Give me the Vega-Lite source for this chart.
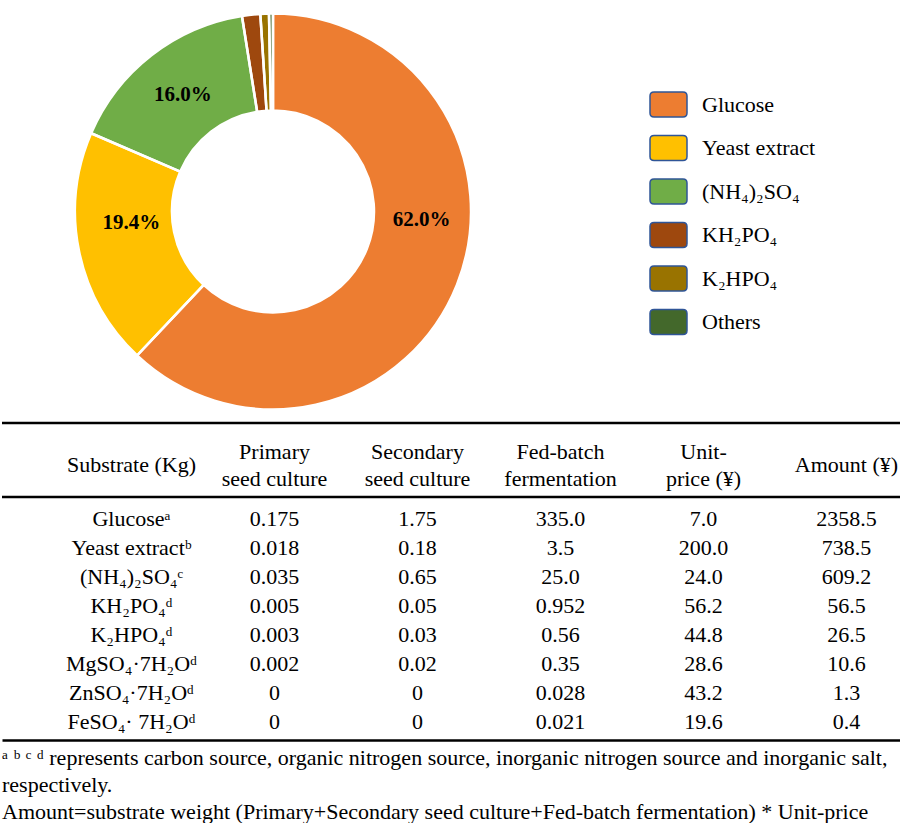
{
  "$schema": "https://vega.github.io/schema/vega-lite/v6.json",
  "padding": 0,
  "spacing": 0,
  "bounds": "flush",
  "config": {
    "view": {"stroke": null},
    "font": "Liberation Serif, Times New Roman, Times, DejaVu Serif, serif",
    "text": {"font": "Liberation Serif, Times New Roman, Times, DejaVu Serif, serif", "color": "black"}
  },
  "datasets": {
    "cost": [
      {"Substrate": "Glucose", "Amount": 2358.5},
      {"Substrate": "Yeast extract", "Amount": 738.5},
      {"Substrate": "(NH₄)₂SO₄", "Amount": 609.2},
      {"Substrate": "KH₂PO₄", "Amount": 56.5},
      {"Substrate": "K₂HPO₄", "Amount": 26.5},
      {"Substrate": "Others", "Amount": 12.3}
    ],
    "header": [
      {"Column": "Substrate", "Header": "Substrate (Kg)"},
      {"Column": "Primary", "Header": "Primary\nseed culture"},
      {"Column": "Secondary", "Header": "Secondary\nseed culture"},
      {"Column": "FedBatch", "Header": "Fed-batch\nfermentation"},
      {"Column": "UnitPrice", "Header": "Unit-\nprice (¥)"},
      {"Column": "Amount", "Header": "Amount (¥)"}
    ],
    "table": [
      {"Substrate": "Glucoseᵃ", "Primary": "0.175", "Secondary": "1.75", "FedBatch": "335.0", "UnitPrice": "7.0", "Amount": "2358.5"},
      {"Substrate": "Yeast extractᵇ", "Primary": "0.018", "Secondary": "0.18", "FedBatch": "3.5", "UnitPrice": "200.0", "Amount": "738.5"},
      {"Substrate": "(NH₄)₂SO₄ᶜ", "Primary": "0.035", "Secondary": "0.65", "FedBatch": "25.0", "UnitPrice": "24.0", "Amount": "609.2"},
      {"Substrate": "KH₂PO₄ᵈ", "Primary": "0.005", "Secondary": "0.05", "FedBatch": "0.952", "UnitPrice": "56.2", "Amount": "56.5"},
      {"Substrate": "K₂HPO₄ᵈ", "Primary": "0.003", "Secondary": "0.03", "FedBatch": "0.56", "UnitPrice": "44.8", "Amount": "26.5"},
      {"Substrate": "MgSO₄·7H₂Oᵈ", "Primary": "0.002", "Secondary": "0.02", "FedBatch": "0.35", "UnitPrice": "28.6", "Amount": "10.6"},
      {"Substrate": "ZnSO₄·7H₂Oᵈ", "Primary": "0", "Secondary": "0", "FedBatch": "0.028", "UnitPrice": "43.2", "Amount": "1.3"},
      {"Substrate": "FeSO₄· 7H₂Oᵈ", "Primary": "0", "Secondary": "0", "FedBatch": "0.021", "UnitPrice": "19.6", "Amount": "0.4"}
    ]
  },
  "vconcat": [
    {
      "width": 542,
      "height": 423,
      "data": {"name": "cost"},
      "transform": [
        {"joinaggregate": [{"op": "sum", "field": "Amount", "as": "Total"}]},
        {"calculate": "datum.Amount / datum.Total", "as": "Share"},
        {"calculate": "datum.Substrate == '(NH₄)₂SO₄' ? format(datum.Share, '.1%') : ''", "as": "LabelGreen"},
        {"calculate": "datum.Substrate == 'Yeast extract' ? format(datum.Share, '.1%') : ''", "as": "LabelYellow"},
        {"calculate": "datum.Substrate == 'Glucose' ? format(datum.Share, '.1%') : ''", "as": "LabelBig"}
      ],
      "encoding": {
        "theta": {"field": "Amount", "type": "quantitative", "stack": true},
        "order": {"field": "Amount", "type": "quantitative", "sort": "descending"}
      },
      "layer": [
        {
          "mark": {"type": "arc", "outerRadius": 198, "innerRadius": 101},
          "encoding": {
            "color": {
              "field": "Substrate",
              "type": "nominal",
              "scale": {
                "domain": ["Glucose", "Yeast extract", "(NH₄)₂SO₄", "KH₂PO₄", "K₂HPO₄", "Others"],
                "range": ["#ED7D31", "#FFC000", "#70AD47", "#9E480E", "#997300", "#43682B"]
              },
              "legend": {
                "title": null,
                "orient": "none",
                "legendX": 647,
                "legendY": 85,
                "padding": 0,
                "rowPadding": 7.5,
                "labelOffset": 14,
                "labelFont": "Liberation Serif, Times New Roman, Times, DejaVu Serif, serif",
                "labelFontSize": 22,
                "labelColor": "black",
                "labelLimit": 300,
                "symbolType": "M-0.78,-0.676 L0.78,-0.676 Q1,-0.676 1,-0.456 L1,0.456 Q1,0.676 0.78,0.676 L-0.78,0.676 Q-1,0.676 -1,0.456 L-1,-0.456 Q-1,-0.676 -0.78,-0.676 Z",
                "symbolSize": 1369,
                "symbolOpacity": 1,
                "symbolStrokeColor": "#2F5597",
                "symbolStrokeWidth": 1.5
              }
            }
          }
        },
        {
          "mark": {"type": "arc", "outerRadius": 198, "innerRadius": 101, "filled": false, "stroke": "white", "strokeWidth": 2.5},
          "encoding": {"detail": {"field": "Substrate", "type": "nominal"}}
        },
        {
          "mark": {"type": "text", "radius": 147, "fontSize": 21, "fontWeight": "bold", "align": "center", "baseline": "middle"},
          "encoding": {"text": {"field": "LabelGreen", "type": "nominal"}}
        },
        {
          "mark": {"type": "text", "radius": 142, "thetaOffset": 0.12, "fontSize": 21, "fontWeight": "bold", "align": "center", "baseline": "middle"},
          "encoding": {"text": {"field": "LabelYellow", "type": "nominal"}}
        },
        {
          "mark": {"type": "text", "radius": 149, "thetaOffset": -0.318, "fontSize": 21, "fontWeight": "bold", "align": "center", "baseline": "middle"},
          "encoding": {"text": {"field": "LabelBig", "type": "nominal"}}
        }
      ]
    },
    {
      "width": 900,
      "height": 74,
      "layer": [
        {
          "data": {"values": [{}]},
          "mark": {"type": "rule", "color": "black", "strokeWidth": 2.5},
          "encoding": {"y": {"value": 0}}
        },
        {
          "data": {"name": "header"},
          "transform": [{"filter": "indexof(datum.Header, '\\n') >= 0"}],
          "mark": {"type": "text", "fontSize": 22, "lineBreak": "\n", "lineHeight": 27, "align": "center", "baseline": "middle", "dy": -8},
          "encoding": {
            "x": {
              "field": "Column",
              "type": "nominal",
              "scale": {"type": "point", "domain": ["Substrate", "Primary", "Secondary", "FedBatch", "UnitPrice", "Amount"], "padding": 0.647, "align": 0.7},
              "axis": null
            },
            "text": {"field": "Header", "type": "nominal"}
          }
        },
        {
          "data": {"name": "header"},
          "transform": [{"filter": "indexof(datum.Header, '\\n') < 0"}],
          "mark": {"type": "text", "fontSize": 22, "align": "center", "baseline": "middle", "dy": 5},
          "encoding": {
            "x": {
              "field": "Column",
              "type": "nominal",
              "scale": {"type": "point", "domain": ["Substrate", "Primary", "Secondary", "FedBatch", "UnitPrice", "Amount"], "padding": 0.647, "align": 0.7},
              "axis": null
            },
            "text": {"field": "Header", "type": "nominal"}
          }
        }
      ]
    },
    {
      "width": 900,
      "height": 243,
      "title": {
        "text": [
          "ᵃ ᵇ ᶜ ᵈ represents carbon source, organic nitrogen source, inorganic nitrogen source and inorganic salt,",
          "respectively.",
          "Amount=substrate weight (Primary+Secondary seed culture+Fed-batch fermentation) * Unit-price"
        ],
        "orient": "bottom",
        "anchor": "start",
        "frame": "group",
        "font": "Liberation Serif, Times New Roman, Times, DejaVu Serif, serif",
        "fontSize": 22,
        "fontWeight": "normal",
        "color": "black",
        "lineHeight": 27,
        "offset": 8
      },
      "layer": [
        {
          "data": {"values": [{}]},
          "mark": {"type": "rule", "color": "black", "strokeWidth": 2.5},
          "encoding": {"y": {"value": 0}}
        },
        {
          "data": {"name": "table"},
          "transform": [
            {"fold": ["Substrate", "Primary", "Secondary", "FedBatch", "UnitPrice", "Amount"], "as": ["Column", "Cell"]}
          ],
          "mark": {"type": "text", "fontSize": 22, "align": "center", "baseline": "middle"},
          "encoding": {
            "x": {
              "field": "Column",
              "type": "nominal",
              "scale": {"type": "point", "domain": ["Substrate", "Primary", "Secondary", "FedBatch", "UnitPrice", "Amount"], "padding": 0.647, "align": 0.7},
              "axis": {"orient": "bottom", "domain": true, "domainColor": "black", "domainWidth": 2.5, "ticks": false, "labels": false, "grid": false, "title": null}
            },
            "y": {
              "field": "Substrate",
              "type": "nominal",
              "sort": null,
              "scale": {"type": "point", "padding": 0.69, "align": 0.55},
              "axis": null
            },
            "text": {"field": "Cell", "type": "nominal"}
          }
        }
      ]
    }
  ]
}
